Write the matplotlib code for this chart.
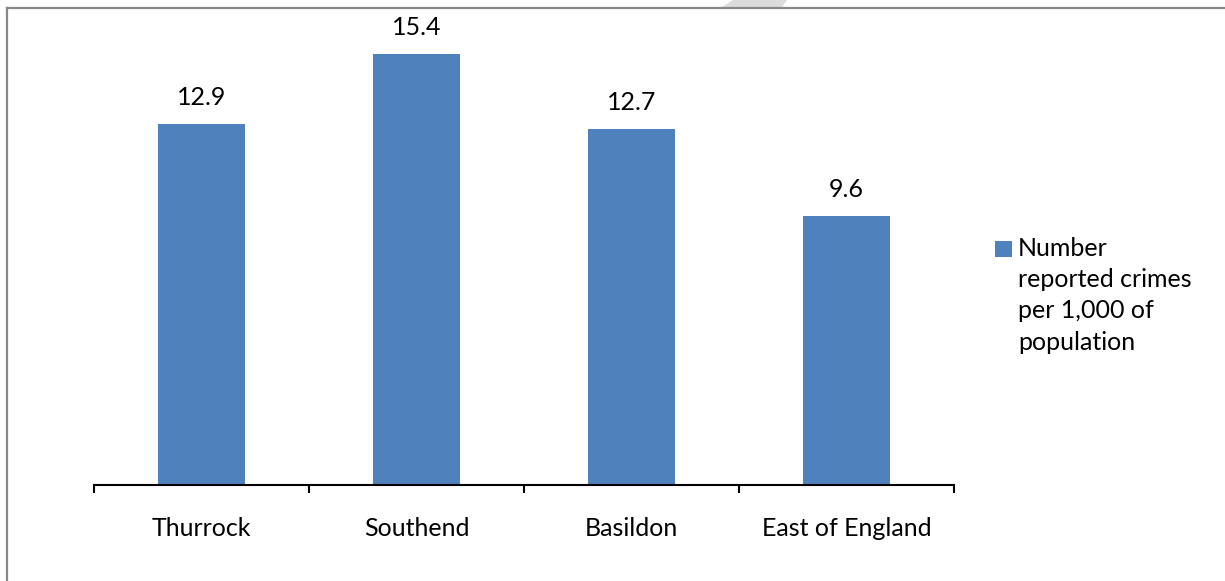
import matplotlib
matplotlib.use('Agg')
import matplotlib.pyplot as plt
from matplotlib.lines import Line2D
from matplotlib.patches import Polygon, Rectangle
import numpy as np

# crimes per 1,000 population by area
areas = ["Thurrock", "Southend", "Basildon", "East of England"]
crime_rates = [12.9, 15.4, 12.7, 9.6]
series_name = "Number\nreported crimes\nper 1,000 of\npopulation"

BAR_BLUE = '#4F81BD'
FRAME_GREY = '#888888'
FONT = ['Lato', 'DejaVu Sans']
FS = 18

W, H = 1225, 581
fig = plt.figure(figsize=(W / 100, H / 100), dpi=100)
fig.patch.set_facecolor('white')

# plot area in pixels: x 94..954, baseline at y=485
left, right, base, top = 94, 954, 485, 37
ax = fig.add_axes([left / W, 1 - base / H, (right - left) / W, (base - top) / H])
ax.set_facecolor('none')

x = np.arange(len(areas))
bars = ax.bar(x, crime_rates, width=0.405, color=BAR_BLUE, zorder=2)
ax.set_xlim(-0.5, len(areas) - 0.5)
ax.set_ylim(0, 16)

for rect, val in zip(bars, crime_rates):
    ax.annotate(f"{val}", (rect.get_x() + rect.get_width() / 2, val),
                xytext=(0, 11), textcoords='offset points',
                ha='center', va='bottom', fontsize=FS, family=FONT, color='black')

for side in ('top', 'right', 'left'):
    ax.spines[side].set_visible(False)
ax.spines['bottom'].set_linewidth(1.5)
ax.spines['bottom'].set_color('black')
ax.set_yticks([])

# category labels on major ticks, boundary ticks as minor
ax.set_xticks(x)
ax.set_xticklabels(areas, fontsize=FS, family=FONT)
ax.tick_params(axis='x', which='major', length=0, pad=23)
ax.set_xticks(np.arange(len(areas) + 1) - 0.5, minor=True)
ax.tick_params(axis='x', which='minor', length=6, width=1.5, direction='out', color='black')

# legend key and wrapped series name at the right
fig.add_artist(Rectangle((995 / W, 1 - 257 / H), 17 / W, 16 / H, facecolor=BAR_BLUE,
                         edgecolor='none', transform=fig.transFigure))
fig.text(1018 / W, 1 - 237 / H, series_name, ha='left', va='top', fontsize=FS,
         family=FONT, linespacing=1.43, color='black')

# outer chart frame (top and left edges visible)
fig.add_artist(Line2D([6.5 / W, 6.5 / W], [0, 1 - 7.5 / H], color=FRAME_GREY, lw=1.6,
                      transform=fig.transFigure))
fig.add_artist(Line2D([6.5 / W, 1], [1 - 7.5 / H, 1 - 7.5 / H], color=FRAME_GREY, lw=1.6,
                      transform=fig.transFigure))

# faint watermark fragment above the frame
wm = [(722, 7), (733, 0), (787, 0), (782, 7)]
fig.add_artist(Polygon([(px / W, 1 - py / H) for px, py in wm], closed=True,
                       facecolor='#DCDCDC', edgecolor='none', transform=fig.transFigure,
                       zorder=0))

fig.savefig('out.png', dpi=100, facecolor='white')
